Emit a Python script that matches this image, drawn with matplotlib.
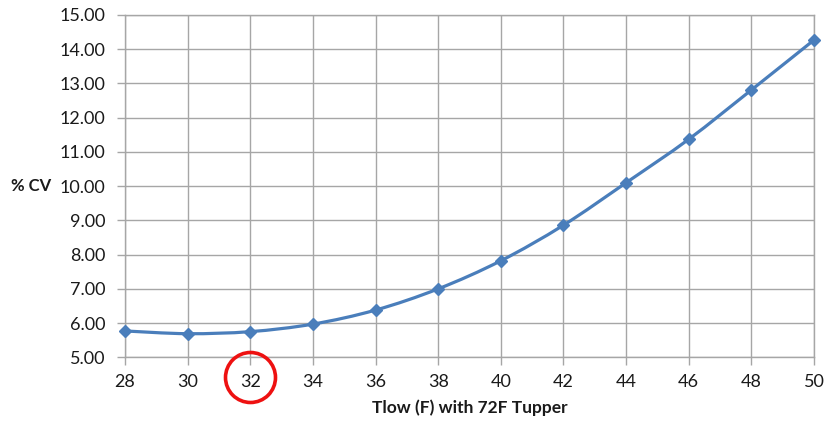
import matplotlib
matplotlib.use("Agg")
import matplotlib.pyplot as plt
from matplotlib.path import Path
from matplotlib.patches import PathPatch
import numpy as np

tlow = [28, 30, 32, 34, 36, 38, 40, 42, 44, 46, 48, 50]
cv = [5.77, 5.69, 5.75, 5.97, 6.38, 7.00, 7.82, 8.86, 10.10, 11.37, 12.81, 14.27]
xticks = list(range(28, 51, 2))
yticks = [5 + i for i in range(11)]

plt.rcParams['font.family'] = ['Lato', 'DejaVu Sans']
fig = plt.figure(figsize=(8.25, 4.22), dpi=100)
ax = fig.add_axes([0.1515, 0.1533, 0.8352, 0.8112])

# smooth (Excel-like) curve via Catmull-Rom Bezier segments in data coordinates
x = np.array(tlow, float); y = np.array(cv, float)
verts = [(x[0], y[0])]; codes = [Path.MOVETO]
n = len(x)
for i in range(n - 1):
    p0 = (x[max(i - 1, 0)], y[max(i - 1, 0)])
    p1 = (x[i], y[i]); p2 = (x[i + 1], y[i + 1])
    p3 = (x[min(i + 2, n - 1)], y[min(i + 2, n - 1)])
    c1 = (p1[0] + (p2[0] - p0[0]) / 6, p1[1] + (p2[1] - p0[1]) / 6)
    c2 = (p2[0] - (p3[0] - p1[0]) / 6, p2[1] - (p3[1] - p1[1]) / 6)
    verts += [c1, c2, p2]; codes += [Path.CURVE4] * 3
ax.add_patch(PathPatch(Path(verts, codes), fill=False, edgecolor='#4A7EBB', lw=2.3, zorder=3, clip_on=False))
ax.plot(tlow, cv, linestyle='none', marker='D', markersize=6.5, color='#4A7EBB', zorder=4, clip_on=False)

ax.set_xlim(28, 50)
ax.set_ylim(5, 15)
ax.set_xticks(xticks)
ax.set_xticklabels([str(t) for t in xticks])
ax.set_yticks(yticks)
ax.set_yticklabels([f"{v:.2f}" for v in yticks])
ax.grid(True, color='#A6A6A6', lw=1.0)
ax.set_axisbelow(True)
for s in ax.spines.values():
    s.set_color('#A6A6A6'); s.set_linewidth(1.0)
ax.tick_params(axis='both', direction='out', length=6, width=1.0, color='#A6A6A6',
               labelsize=13, labelcolor='#1A1A1A')
ax.tick_params(axis='x', pad=6)
ax.tick_params(axis='y', pad=8)

fig.text(51 / 825, 1 - 186 / 422, '% CV', ha='right', va='center',
         fontsize=12, fontweight='bold', color='#1A1A1A')
ax.set_xlabel('Tlow (F) with 72F Tupper', fontsize=12.5, fontweight='bold', color='#1A1A1A', labelpad=7)

# red circle highlighting 32
ax.plot([32], [4.42], marker='o', markersize=36, markerfacecolor='none',
        markeredgecolor='#EE1111', markeredgewidth=2.6, clip_on=False, zorder=5)

fig.savefig('out.png', dpi=100)
